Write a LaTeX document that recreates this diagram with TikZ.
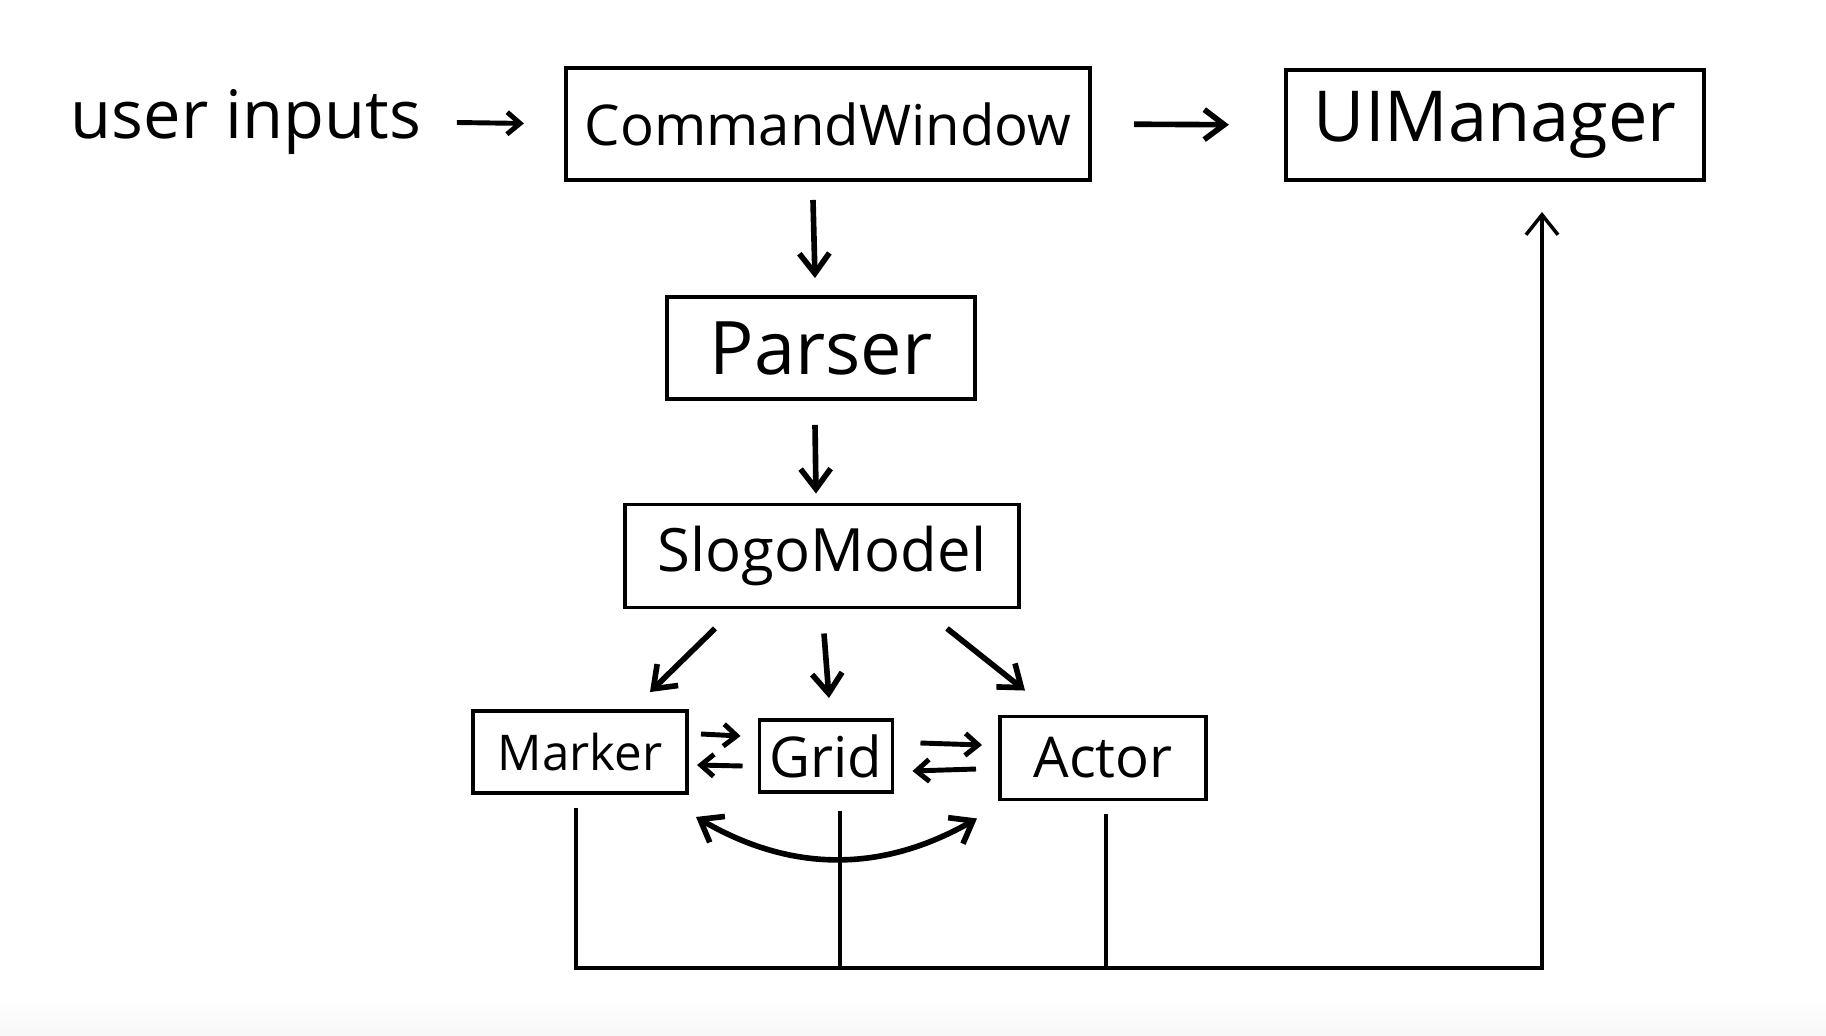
\documentclass[tikz,border=0pt]{standalone}
\usepackage{fontspec}
\setmainfont{Open Sans}
\usetikzlibrary{calc,arrows.meta}
\tikzstyle{box}=[rectangle,draw=black,line width=1.1pt,inner sep=0mm,font=\fontsize{18}{22}\selectfont]
\tikzstyle{sbox}=[box,font=\fontsize{15}{18}\selectfont]
\tikzstyle{arr}=[line width=1.6pt,-{Straight Barb[length=2mm,width=3mm]}]
\tikzstyle{sarr}=[line width=1.4pt,-{Straight Barb[length=1.3mm,width=2.2mm]}]
\tikzstyle{wire}=[line width=1pt]

\begin{document}
\begin{tikzpicture}[x=0.01cm,y=-0.01cm]
  \useasboundingbox (0,0) rectangle (1826,1036);
  \shade [top color=white, bottom color=black!3] (0,1000) rectangle (1826,1036);

  \node [font=\fontsize{19}{22}\selectfont, inner sep=0mm] at (246,122) (user) {user inputs};
  \node [box, font=\fontsize{16}{20}\selectfont, minimum width=5.24cm, minimum height=1.12cm] at (828,124) (cw) {CommandWindow};
  \node [box, font=\fontsize{20}{22}\selectfont, minimum width=4.18cm, minimum height=1.10cm] at (1495,125) (ui) {UIManager};
  \node [box, font=\fontsize{21}{22}\selectfont, minimum width=3.08cm, minimum height=1.02cm] at (821,348) (parser) {Parser};
  \node [box, font=\fontsize{17}{22}\selectfont, minimum width=3.94cm, minimum height=1.03cm] at (822,556) (model) {SlogoModel};
  \node [sbox, font=\fontsize{14}{18}\selectfont, minimum width=2.14cm, minimum height=0.82cm] at (580,752) (marker) {Marker};
  \node [sbox, font=\fontsize{16}{18}\selectfont, minimum width=1.33cm, minimum height=0.72cm] at (826,756) (grid) {Grid};
  \node [sbox, font=\fontsize{16}{18}\selectfont, minimum width=2.06cm, minimum height=0.83cm] at (1103,758) (actor) {Actor};

  \draw [sarr, shorten <=0.35cm, shorten >=0.4cm] (user.east) -- (cw.west);
  \draw [arr, shorten <=0.42cm, shorten >=0.55cm] (cw.east) -- (ui.west);

  \draw [arr] ($(cw.south)+(-15,18)$) -- ($(parser.north)+(-6,-17)$);
  \draw [arr] ($(parser.south)+(-6,24)$) -- ($(model.north)+(-6,-9)$);

  \draw [arr] ($(model.south)+(-107,19)$) -- ($(marker.north)+(70,-17)$);
  \draw [arr] ($(model.south)+(2,24)$) -- ($(grid.north)+(3,-20)$);
  \draw [arr] ($(model.south)+(125,19)$) -- ($(actor.north)+(-78,-24)$);

  \draw [sarr] ($(marker.east)+(12,-18)$) -- ($(grid.west)+(-17,-20)$);
  \draw [sarr] ($(grid.west)+(-15,10)$) -- ($(marker.east)+(8,13)$);
  \draw [sarr] ($(grid.east)+(26,-13)$) -- ($(actor.west)+(-16,-13)$);
  \draw [sarr] ($(actor.west)+(-22,11)$) -- ($(grid.east)+(18,15)$);

  \draw [arr, {Straight Barb[length=2mm,width=3mm]}-{Straight Barb[length=2mm,width=3mm]}] ($(marker.south east)+(7,22)$) to [bend right=30] ($(actor.south west)+(-21,17)$);

  \coordinate (bus) at (1542,968);
  \draw [wire, -{Straight Barb[length=2mm,width=3.2mm]}] ($(marker.south)+(-4,13)$) |- (bus) -- ($(ui.south)+(47,30)$);
  \draw [wire] ($(grid.south)+(14,17)$) coordinate (g) -- (g |- bus);
  \draw [wire] ($(actor.south)+(3,13)$) coordinate (a) -- (a |- bus);
\end{tikzpicture}
\end{document}
